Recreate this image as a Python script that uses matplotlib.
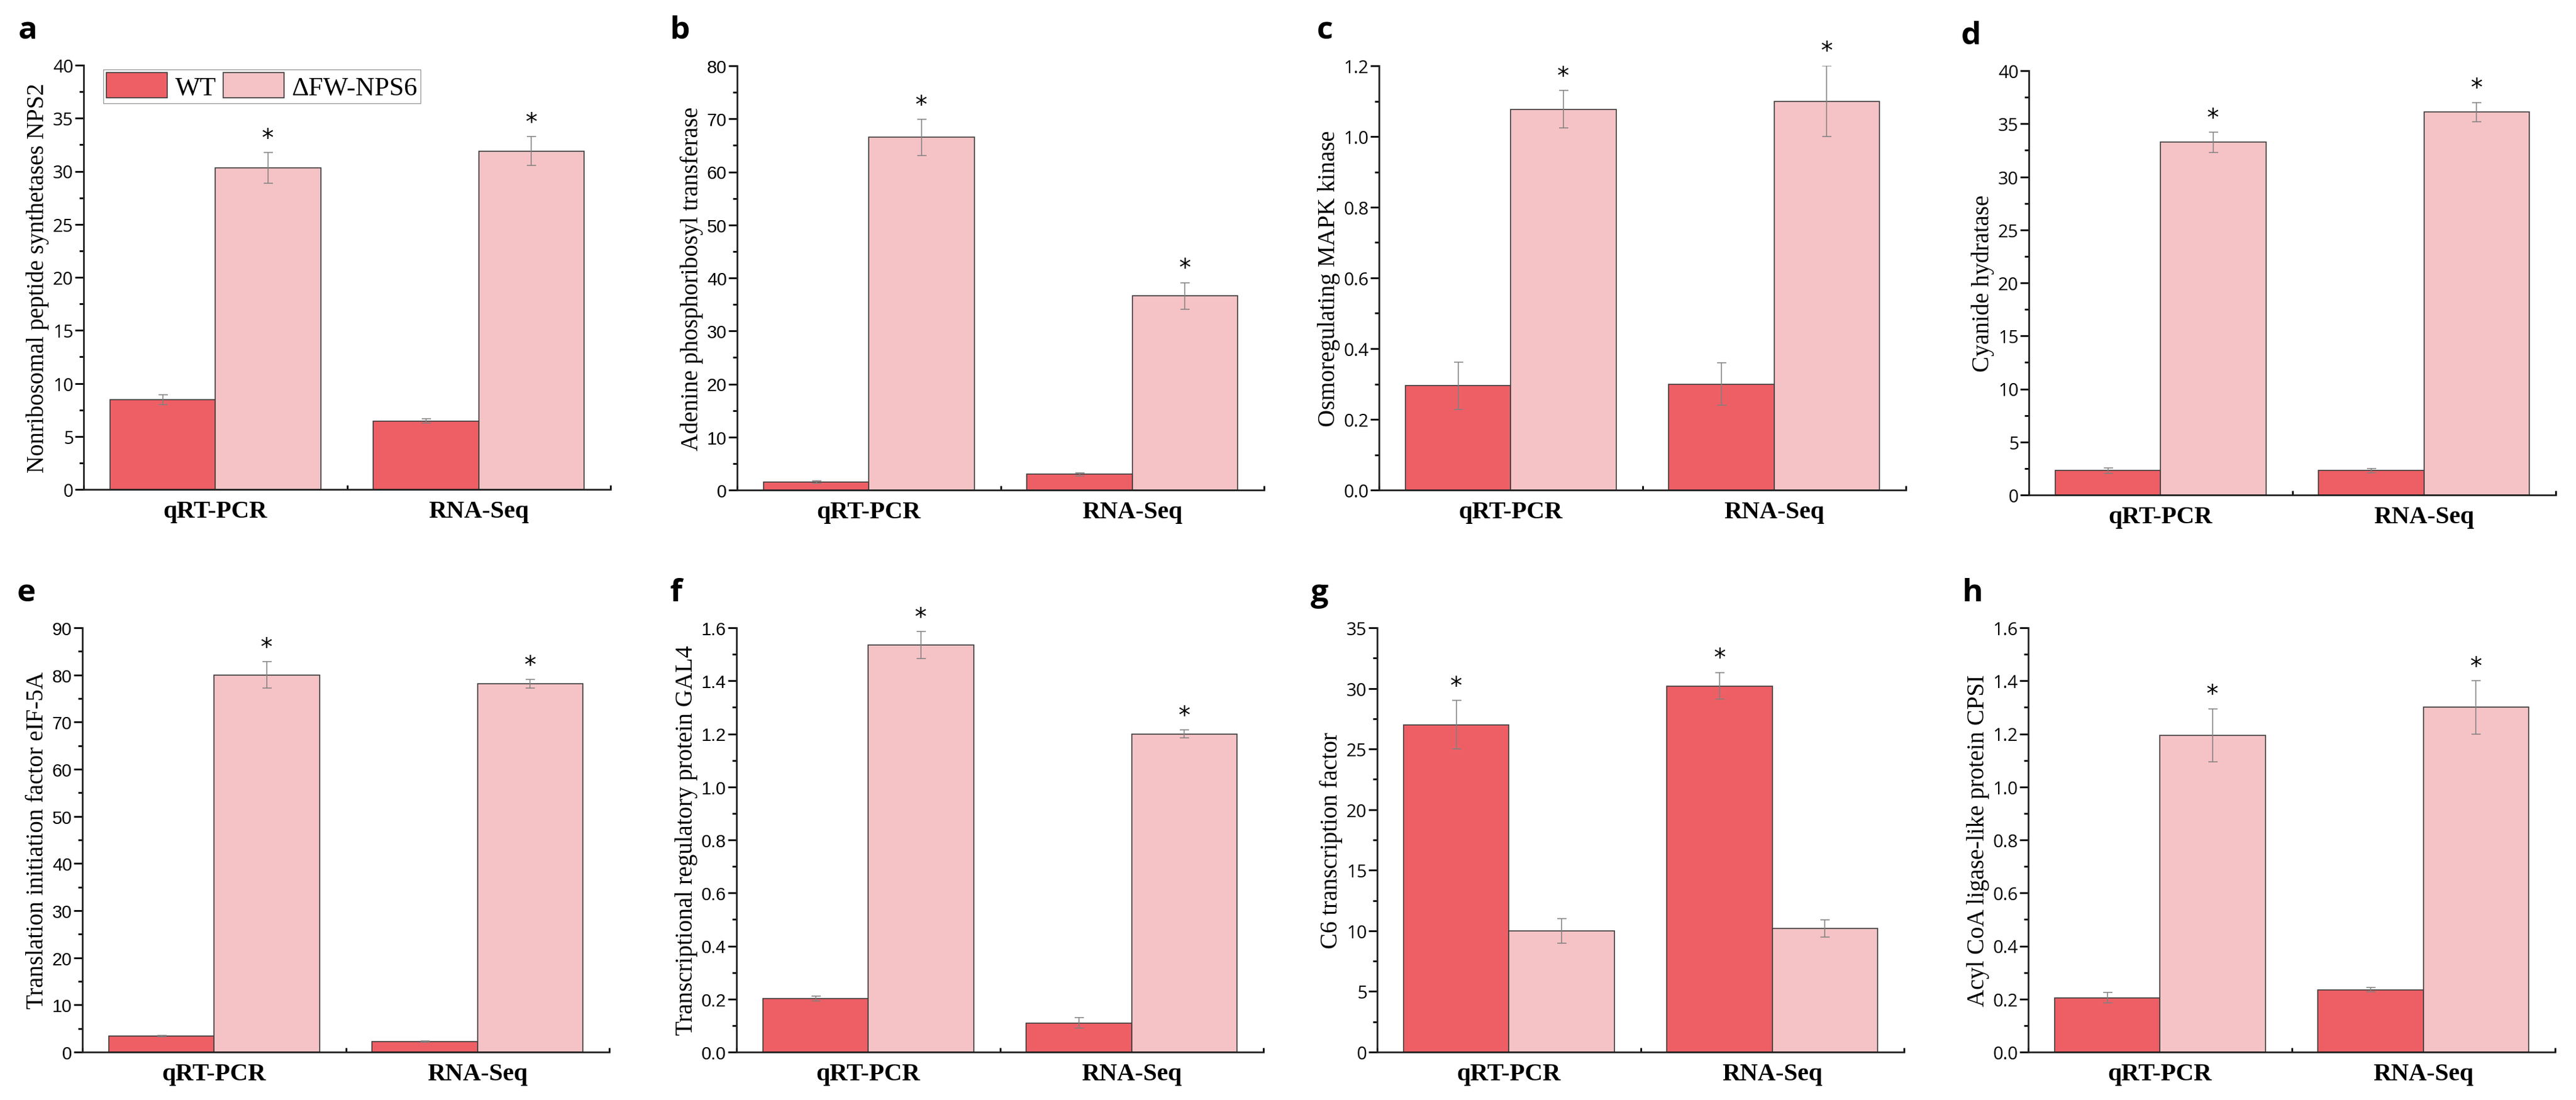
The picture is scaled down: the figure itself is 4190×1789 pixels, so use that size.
import matplotlib
matplotlib.use('Agg')
import matplotlib.pyplot as plt
from matplotlib.ticker import MultipleLocator, FormatStrFormatter, FixedLocator, NullFormatter

# datos (media y error)
groups = ['qRT-PCR', 'RNA-Seq']
series_names = ['WT', '\u0394FW-NPS6']
panel_letters = ['a', 'b', 'c', 'd', 'e', 'f', 'g', 'h']
ylabels = [
    'Nonribosomal peptide synthetases NPS2',
    'Adenine phosphoribosyl transferase',
    'Osmoregulating MAPK kinase',
    'Cyanide hydratase',
    'Translation initiation factor eIF-5A',
    'Transcriptional regulatory protein GAL4',
    'C6 transcription factor',
    'Acyl CoA ligase-like protein CPSI',
]
wt_vals = [[8.45, 6.45], [1.5, 3.0], [0.295, 0.30], [2.3, 2.3],
           [3.4, 2.2], [0.202, 0.11], [27.0, 30.2], [0.205, 0.235]]
wt_err = [[0.45, 0.2], [0.2, 0.3], [0.067, 0.06], [0.25, 0.2],
          [0.15, 0.15], [0.01, 0.02], [2.0, 1.1], [0.02, 0.008]]
mut_vals = [[30.3, 31.9], [66.5, 36.6], [1.077, 1.10], [33.25, 36.1],
            [80.0, 78.1], [1.535, 1.20], [10.0, 10.2], [1.195, 1.30]]
mut_err = [[1.45, 1.35], [3.4, 2.5], [0.053, 0.10], [0.95, 0.9],
           [2.8, 0.9], [0.05, 0.015], [1.0, 0.7], [0.1, 0.1]]
# que serie lleva el asterisco
star_on = ['mut', 'mut', 'mut', 'mut', 'mut', 'mut', 'wt', 'mut']
ymax = [40, 80, 1.2, 40, 90, 1.6, 35, 1.6]
ystep = [5, 10, 0.2, 5, 10, 0.2, 5, 0.2]

WT_COLOR = '#ee5f65'
MUT_COLOR = '#f5c3c5'
EDGE = '#3c3c3c'

W, H = 4190, 1790
# posiciones de los ejes en pixeles: (izq, arriba)
axes_px = [(136, 107), (1199, 108), (2243, 108), (3300, 116),
           (134, 1022), (1198, 1022), (2240, 1022), (3299, 1022)]
AX_W, AX_H = 857, 690
letter_px = [(30, 63), (1090, 63), (2142, 63), (3190, 72),
             (28, 978), (1090, 978), (2132, 978), (3192, 978)]
tick_fonts = ['Open Sans', 'Liberation Sans', 'Open Sans', 'Open Sans',
              'Liberation Sans', 'Liberation Sans', 'Open Sans', 'Open Sans']

fig = plt.figure(figsize=(W / 100, H / 100), dpi=100)

for i in range(8):
    left, top = axes_px[i]
    ax = fig.add_axes([left / W, 1 - (top + AX_H) / H, AX_W / W, AX_H / H])

    x_wt = [0.3, 1.3]
    x_mut = [0.7, 1.7]
    ax.bar(x_wt, wt_vals[i], width=0.4, color=WT_COLOR, edgecolor=EDGE, linewidth=1.2,
           label=series_names[0], zorder=2)
    ax.bar(x_mut, mut_vals[i], width=0.4, color=MUT_COLOR, edgecolor=EDGE, linewidth=1.2,
           label=series_names[1], zorder=2)
    for xs, vs, es in [(x_wt, wt_vals[i], wt_err[i]), (x_mut, mut_vals[i], mut_err[i])]:
        ax.errorbar(xs, vs, yerr=es, fmt='none', ecolor='#808080', elinewidth=1.1,
                    capsize=5.4, capthick=1.1, zorder=3)

    if star_on[i] == 'mut':
        sx, sv, se = x_mut, mut_vals[i], mut_err[i]
    else:
        sx, sv, se = x_wt, wt_vals[i], wt_err[i]
    for x, v, e in zip(sx, sv, se):
        ax.annotate('*', (x, v + e), xytext=(0, 9), textcoords='offset points',
                    ha='center', va='baseline', fontsize=28, family='DejaVu Sans')

    ax.set_xlim(0, 2)
    ax.set_ylim(0, ymax[i])
    ax.yaxis.set_major_locator(MultipleLocator(ystep[i]))
    ax.yaxis.set_minor_locator(MultipleLocator(ystep[i] / 2))
    if ystep[i] < 1:
        ax.yaxis.set_major_formatter(FormatStrFormatter('%.1f'))

    ax.xaxis.set_major_locator(FixedLocator([0, 1, 2]))
    ax.xaxis.set_major_formatter(NullFormatter())
    ax.xaxis.set_minor_locator(FixedLocator([0.5, 1.5]))
    ax.set_xticklabels(groups, minor=True)
    ax.tick_params(axis='x', which='major', direction='in', length=5, width=2)
    ax.tick_params(axis='x', which='minor', length=0, pad=12)
    for lab in ax.get_xticklabels(minor=True):
        lab.set_family('Liberation Serif')
        lab.set_fontweight('bold')
        lab.set_fontsize(29)

    ax.tick_params(axis='y', which='major', direction='out', length=10, width=2, pad=2,
                   labelsize=21)
    ax.tick_params(axis='y', which='minor', direction='out', length=5, width=2)
    for lab in ax.get_yticklabels():
        lab.set_family(tick_fonts[i])

    for side in ['top', 'right']:
        ax.spines[side].set_visible(False)
    for side in ['left', 'bottom']:
        ax.spines[side].set_linewidth(2)
        ax.spines[side].set_color('#222222')

    ax.set_ylabel(ylabels[i], family='Liberation Serif', fontsize=28, labelpad=4)

    if i == 0:
        ax.legend(loc='upper left', bbox_to_anchor=(0.037, 0.99), borderaxespad=0,
                  ncol=2, fancybox=False, edgecolor='#999999', framealpha=1,
                  prop={'family': 'Liberation Serif', 'size': 31},
                  handlelength=2.3, handleheight=1.1, handletextpad=0.3,
                  columnspacing=0.25, borderpad=0.12)

    lx, ly = letter_px[i]
    fig.text(lx / W, 1 - ly / H, panel_letters[i], family='Open Sans', fontweight='bold',
             fontsize=37, va='baseline', ha='left')

fig.savefig('out.png', dpi=100)
